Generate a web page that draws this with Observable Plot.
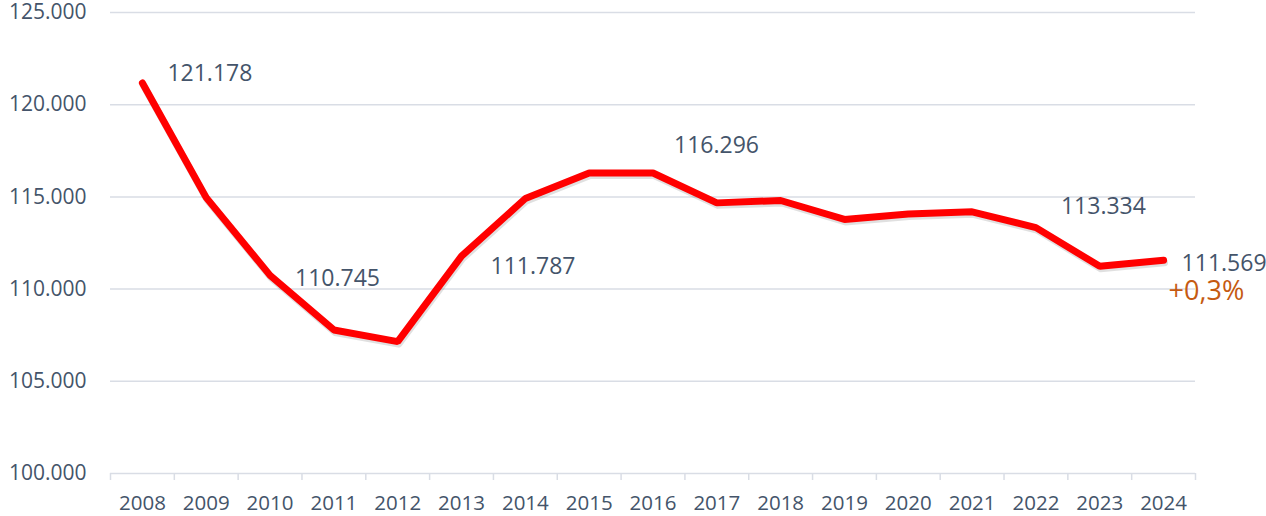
<!DOCTYPE html>
<html>
<head>
<meta charset="utf-8">
<script src="https://cdn.jsdelivr.net/npm/d3@7"></script>
<script src="https://cdn.jsdelivr.net/npm/@observablehq/plot@0.6"></script>
<style>
  html, body { margin: 0; padding: 0; background: #fff; }
  #chart svg { display: block; }
</style>
</head>
<body>
<div id="chart"></div>
<script>
const years = [2008, 2009, 2010, 2011, 2012, 2013, 2014, 2015, 2016, 2017, 2018, 2019, 2020, 2021, 2022, 2023, 2024];
const values = [121178, 114960, 110745, 107784, 107151, 111787, 114914, 116300, 116296, 114676, 114805, 113778, 114070, 114189, 113334, 111235, 111569];
const yTicks = [100000, 105000, 110000, 115000, 120000, 125000];
const changeLabel = "+0,3%";

const data = years.map((year, i) => ({ year, value: values[i] }));
const boundaries = [years[0] - 0.5, ...years.map(y => y + 0.5)];
const fmt = d3.formatLocale({ decimal: ",", thousands: ".", grouping: [3], currency: ["", ""] }).format(",d");

const textColor = "#44546a";
const gridColor = "#d9dde5";
const font = "'Open Sans', sans-serif";

const pick = (y) => data.filter(d => d.year === y);
const label = (y, dx, dy) => Plot.text(pick(y), {
  x: "year", y: "value", text: d => fmt(d.value),
  textAnchor: "start", dx, dy, fill: textColor, fontSize: 23
});

const chart = Plot.plot({
  width: 1266,
  height: 516,
  marginLeft: 110,
  marginRight: 71,
  marginTop: 12,
  marginBottom: 43,
  style: { fontFamily: font, background: "#fff" },
  x: { domain: [years[0] - 0.5, years[years.length - 1] + 0.5] },
  y: { domain: [100000, 125000] },
  marks: [
    Plot.gridY(yTicks, { stroke: gridColor, strokeOpacity: 1, strokeWidth: 1.5 }),
    Plot.axisY({ ticks: yTicks, tickSize: 0, tickPadding: 24, tickFormat: fmt, fontSize: 21, color: textColor, label: null }),
    Plot.axisX({ ticks: boundaries, tickSize: 7, text: null, stroke: gridColor, strokeWidth: 1.5, strokeOpacity: 1, label: null }),
    Plot.axisX({ ticks: years, tickSize: 0, tickPadding: 22, tickFormat: d => String(d), fontSize: 20.5, color: textColor, label: null }),
    Plot.line(data, { x: "year", y: "value", stroke: "#000", strokeOpacity: 0.12, strokeWidth: 7, dx: 1, dy: 2.5 }),
    Plot.line(data, { x: "year", y: "value", stroke: "#ff0000", strokeWidth: 7, strokeLinejoin: "miter", strokeLinecap: "round" }),
    label(2008, 25, -9),
    label(2010, 25, 3),
    label(2013, 29, 10),
    label(2016, 21, -27),
    label(2022, 25, -21),
    label(2024, 18, 3),
    Plot.text(pick(2024), { x: "year", y: "value", text: () => changeLabel, textAnchor: "start", dx: 5, dy: 31, fill: "#c55a11", fontSize: 27 })
  ]
});
document.getElementById("chart").appendChild(chart);
</script>
</body>
</html>
